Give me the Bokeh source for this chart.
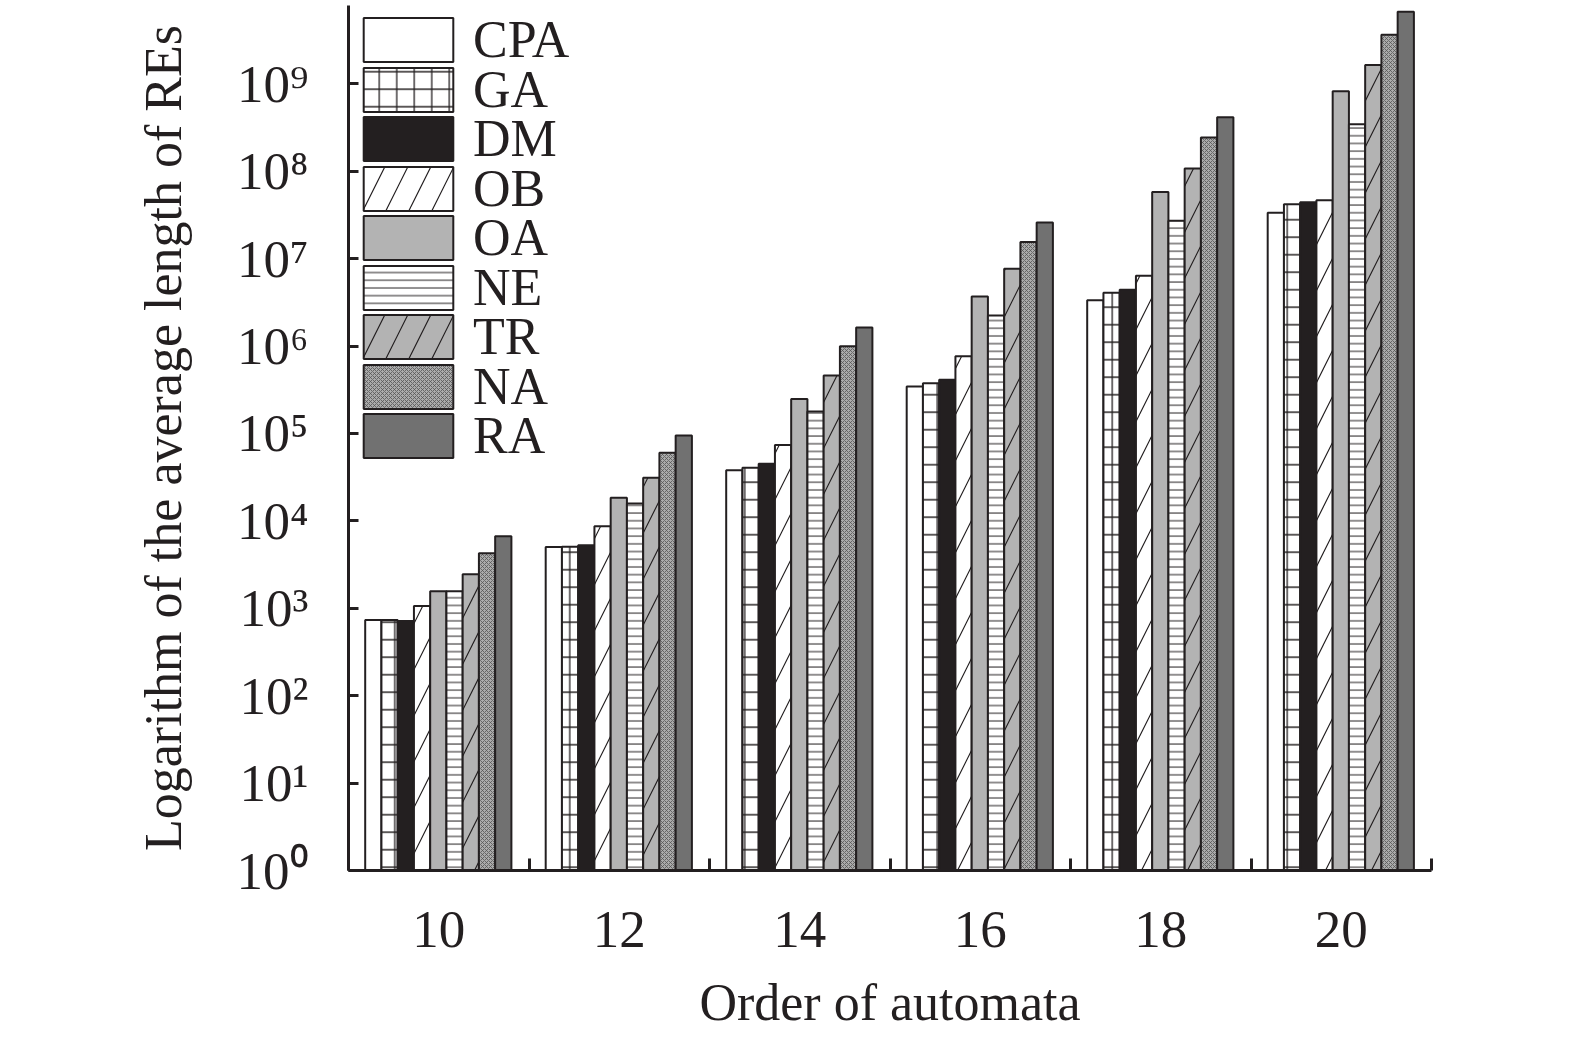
from bokeh.plotting import figure
from bokeh.models import (Range1d, FixedTicker, CustomJSTickFormatter, Legend, LegendItem,
                          ColumnDataSource)
from bokeh.embed import file_html
from bokeh.resources import INLINE

orders = [10, 12, 14, 16, 18, 20]
series_names = ["CPA", "GA", "DM", "OB", "OA", "NE", "TR", "NA", "RA"]
CPA = [733, 5030, 38100, 344000, 3.35e6, 3.36e7]
GA = [733, 5050, 40500, 375000, 4.07e6, 4.19e7]
DM = [714, 5250, 45000, 413000, 4.41e6, 4.42e7]
OB = [1060, 8690, 73700, 764000, 6.37e6, 4.65e7]
OA = [1565, 18350, 248000, 3.69e6, 5.79e7, 8.26e8]
NE = [1565, 15800, 179000, 2.24e6, 2.72e7, 3.46e8]
TR = [2450, 31100, 462000, 7.67e6, 1.08e8, 1.64e9]
NA = [4270, 60100, 995000, 1.55e7, 2.43e8, 3.65e9]
RA = [6670, 95000, 1.63e6, 2.6e7, 4.16e8, 6.7e9]
series_values = [CPA, GA, DM, OB, OA, NE, TR, NA, RA]
y_ticks = [10 ** k for k in range(10)]

INK = "#231f20"
styles = [
    dict(fill_color="white"),
    dict(fill_color="white", hatch_pattern="+", hatch_scale=17.5, hatch_weight=1.3, hatch_color=INK),
    dict(fill_color=INK),
    dict(fill_color="white", hatch_pattern="/", hatch_scale=46, hatch_weight=1.2, hatch_color=INK),
    dict(fill_color="#b3b3b3"),
    dict(fill_color="white", hatch_pattern="-", hatch_scale=7.7, hatch_weight=1.0, hatch_color=INK),
    dict(fill_color="#b3b3b3", hatch_pattern="/", hatch_scale=46, hatch_weight=1.2, hatch_color=INK),
    dict(fill_color="#ababab", hatch_pattern="x", hatch_scale=4, hatch_weight=0.8, hatch_color="#555555"),
    dict(fill_color="#717171"),
]

FONT = "Liberation Serif"
FRAME_H = 865

p = figure(width=1567, height=1045, output_backend="svg", toolbar_location=None,
           y_axis_type="log", x_range=Range1d(9, 21), y_range=Range1d(1, 10 ** 9.897),
           min_border_left=348, min_border_right=136, min_border_top=5, min_border_bottom=175,
           background_fill_color="white", border_fill_color="white")
p.outline_line_color = None
p.grid.grid_line_color = None

bar_w = 0.18
renderers = []
for i, (name, vals) in enumerate(zip(series_names, series_values)):
    xs = [o + (i - 4) * bar_w - 0.005 for o in orders]
    src = ColumnDataSource(dict(x=xs, top=vals))
    r = p.vbar(x="x", top="top", bottom=1, width=bar_w, source=src,
               line_color=INK, line_width=2, **styles[i])
    renderers.append(r)

# one legend per entry so that the rows can sit closer than the label text height
pitch = 49.5
for k, (name, r) in enumerate(zip(series_names, renderers)):
    lg = Legend(items=[LegendItem(label=name, renderers=[r])],
                location=(4, FRAME_H - 35 - pitch * k - 29), margin=0, padding=0,
                glyph_width=112, glyph_height=55, label_standoff=9,
                label_text_font=FONT, label_text_font_size="52px", label_text_color=INK,
                background_fill_alpha=0, border_line_color=None)
    p.add_layout(lg)

# x axis
xa = p.xaxis[0]
xa.ticker = FixedTicker(ticks=orders, minor_ticks=[9, 11, 13, 15, 17, 19, 21])
xa.major_tick_line_color = None
xa.minor_tick_in = 12
xa.minor_tick_out = 0
xa.minor_tick_line_width = 3
xa.minor_tick_line_color = INK
xa.axis_line_width = 3
xa.axis_line_color = INK
xa.major_label_text_font = FONT
xa.major_label_text_font_size = "53px"
xa.major_label_text_color = INK
xa.major_label_standoff = 35
xa.axis_label = "Order of automata"
xa.axis_label_text_font = FONT
xa.axis_label_text_font_size = "52px"
xa.axis_label_text_font_style = "normal"
xa.axis_label_text_color = INK
xa.axis_label_standoff = 24

# y axis
ya = p.yaxis[0]
ya.ticker = FixedTicker(ticks=y_ticks, minor_ticks=[])
ya.formatter = CustomJSTickFormatter(code="""
const e = Math.round(Math.log10(tick));
const s = ['\u2070','\u00b9','\u00b2','\u00b3','\u2074','\u2075','\u2076','\u2077','\u2078','\u2079'];
return '10' + s[e];
""")
ya.major_tick_in = 10
ya.major_tick_out = 0
ya.major_tick_line_width = 3
ya.major_tick_line_color = INK
ya.minor_tick_line_color = None
ya.axis_line_width = 3
ya.axis_line_color = INK
ya.major_label_text_font = FONT
ya.major_label_text_font_size = "53px"
ya.major_label_text_color = INK
ya.major_label_standoff = 40
ya.axis_label = "Logarithm of the average length of REs"
ya.axis_label_text_font = FONT
ya.axis_label_text_font_size = "52px"
ya.axis_label_text_font_style = "normal"
ya.axis_label_text_color = INK
ya.axis_label_standoff = 42

open("out.html", "w").write(file_html(p, INLINE))
